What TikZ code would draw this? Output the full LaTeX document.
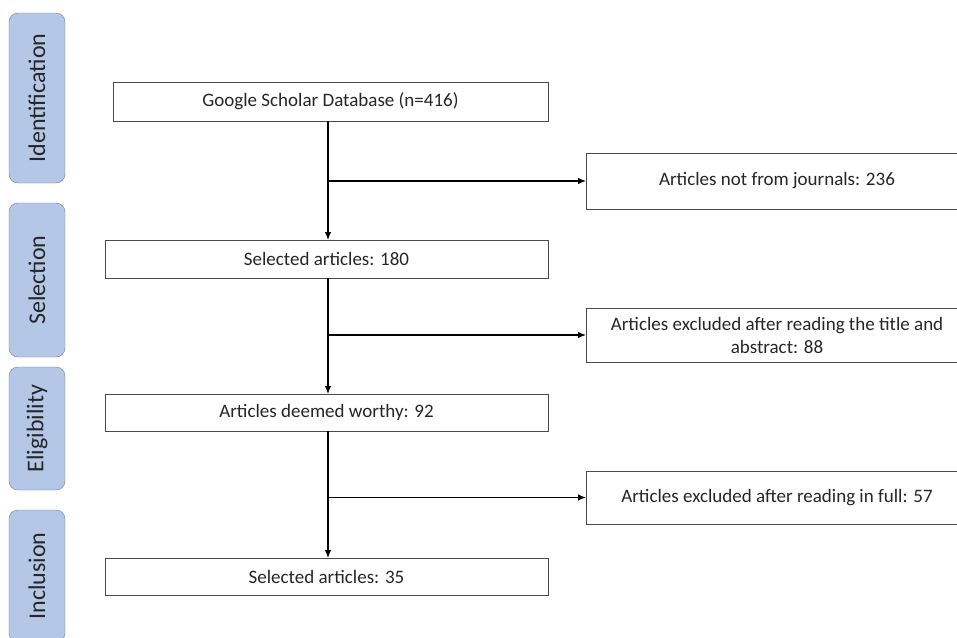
\documentclass[tikz,border=0pt]{standalone}
\usepackage{fontspec}
\setmainfont{Carlito}
\usetikzlibrary{arrows.meta,positioning}
\definecolor{phaseFill}{HTML}{B4C7E7}
\definecolor{phaseLine}{HTML}{6F7F95}
\definecolor{boxLine}{HTML}{4A4A4A}
\definecolor{txt}{HTML}{262626}

\begin{document}
\begin{tikzpicture}[x=1pt,y=-1pt,>={Latex[length=8pt,width=6.5pt]},
    phase/.style={draw=phaseLine,fill=phaseFill,rounded corners=9pt,rotate=90,
      minimum height=56pt,inner sep=0pt,outer sep=0pt,text=txt,
      font=\fontsize{24}{28}\selectfont},
    stepbox/.style={draw=boxLine,fill=white,inner sep=0pt,outer sep=0pt,
      text=txt,font=\fontsize{19}{23}\selectfont,align=center},
    sidebox/.style={stepbox,minimum width=382pt},
    link/.style={->,line width=1.1pt,black}]
  \useasboundingbox (0,0) rectangle (957,637);
  % phases on the left
  \node[phase,minimum width=170pt] (pid) at (37,98) {Identification};
  \node[phase,minimum width=154pt] (psel) at (37,280) {Selection};
  \node[phase,minimum width=123pt] (pelig) at (37,428.5) {Eligibility};
  \node[phase,minimum width=132pt] (pincl) at (37,576) {Inclusion};
  % main steps
  \node[stepbox,minimum width=435pt,minimum height=39pt] (gs) at (330.5,101.5)
    {Google Scholar Database (n=416)};
  \node[stepbox,minimum width=443pt,minimum height=38pt] (sel) at (326.5,259)
    {Selected articles: 180};
  \node[stepbox,minimum width=443pt,minimum height=37pt] (worthy) at (326.5,412.5)
    {Articles deemed worthy: 92};
  \node[stepbox,minimum width=443pt,minimum height=37pt] (final) at (326.5,576.5)
    {Selected articles: 35};
  % branch points and excluded articles
  \coordinate (b1) at (328,181);
  \coordinate (b2) at (328,335);
  \coordinate (b3) at (328,497.5);
  \node[sidebox,minimum height=56pt,right=258pt of b1] (ex1)
    {Articles not from journals: 236};
  \node[sidebox,minimum height=54pt,right=258pt of b2] (ex2)
    {Articles excluded after reading the title and\\abstract: 88};
  \node[sidebox,minimum height=53pt,right=258pt of b3] (ex3)
    {Articles excluded after reading in full: 57};
  \draw[link] (gs.south -| b1) -- (sel.north -| b1);
  \draw[link] (sel.south -| b2) -- (worthy.north -| b2);
  \draw[link] (worthy.south -| b3) -- (final.north -| b3);
  \draw[link] (b1) -- (ex1);
  \draw[link] (b2) -- (ex2);
  \draw[link] (b3) -- (ex3);
\end{tikzpicture}
\end{document}
